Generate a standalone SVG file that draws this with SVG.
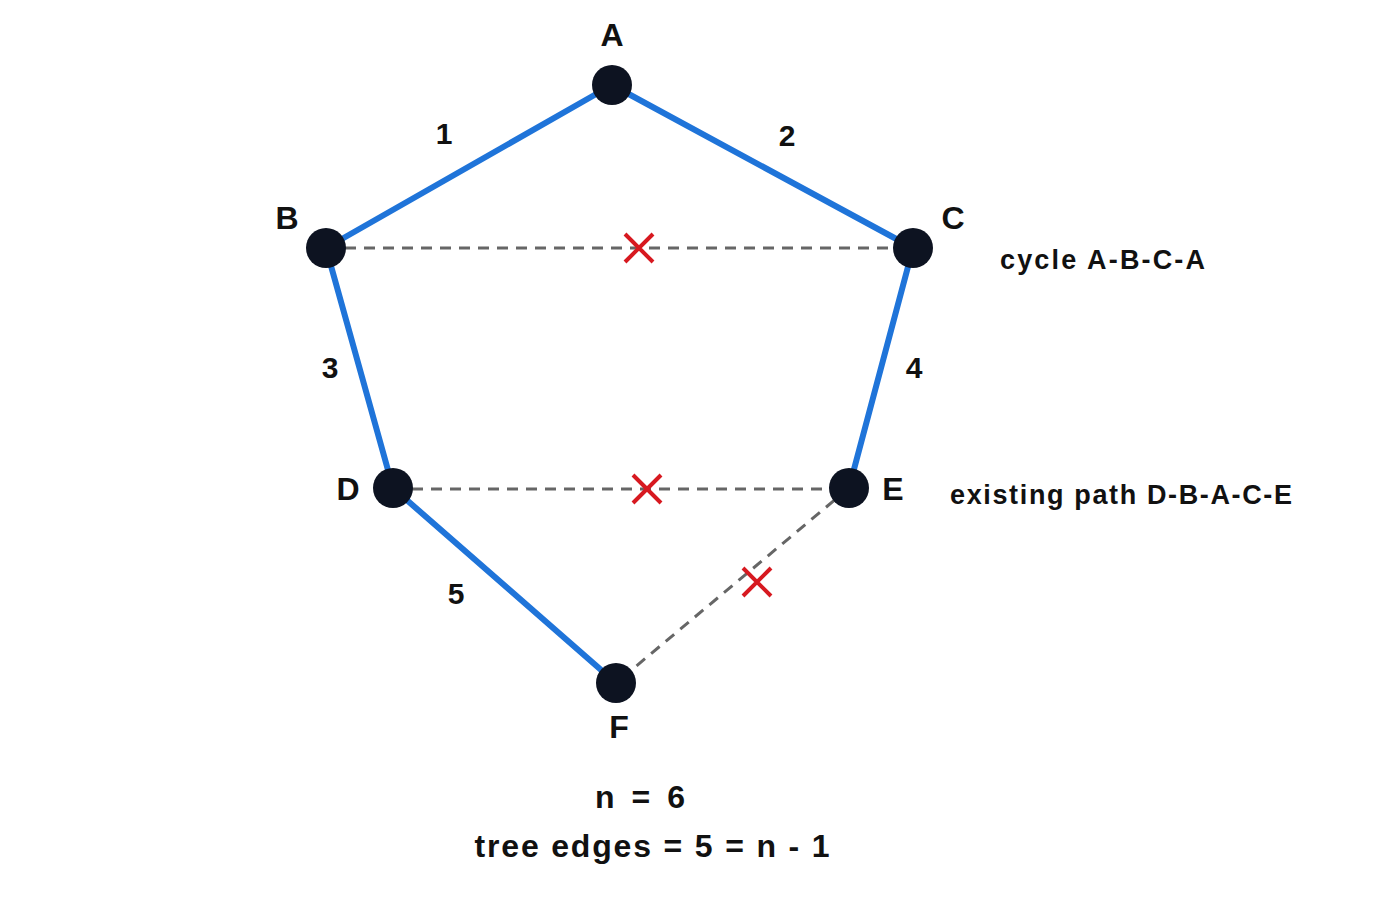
<svg xmlns="http://www.w3.org/2000/svg" width="1400" height="900" viewBox="0 0 1400 900">
<style>
.t{stroke:#1f74d9;stroke-width:6;stroke-linecap:round}
.d{stroke:#666;stroke-width:3;stroke-dasharray:11 8}
.x{stroke:#d71920;stroke-width:4}
.n{fill:#0d1321}
text{font-family:"Liberation Sans",Arial,sans-serif;font-weight:bold;fill:#111;text-anchor:middle;dominant-baseline:central}
.lbl{font-size:32px}
.num{font-size:30px}
.ann{font-size:27px;font-weight:600;text-anchor:start}
.bot{font-size:32px;font-weight:600}
</style>
<rect width="1400" height="900" fill="#fff"/>
<g id="connectors">
<line class="t" x1="612" y1="85" x2="326" y2="248"/>
<line class="t" x1="612" y1="85" x2="913" y2="248"/>
<line class="t" x1="326" y1="248" x2="393" y2="488"/>
<line class="t" x1="913" y1="248" x2="849" y2="488"/>
<line class="t" x1="393" y1="488" x2="616" y2="683"/>
<line class="d" x1="326" y1="248" x2="913" y2="248"/>
<line class="d" x1="393" y1="489" x2="849" y2="489"/>
<line class="d" x1="849" y1="488" x2="616" y2="683"/>
<path class="x" d="M625 234l28 28M653 234l-28 28"/>
<path class="x" d="M633 475l28 28M661 475l-28 28"/>
<path class="x" d="M743 568l28 28M771 568l-28 28"/>
<text class="num" x="444" y="133">1</text>
<text class="num" x="787" y="135">2</text>
<text class="num" x="330" y="367">3</text>
<text class="num" x="914" y="367">4</text>
<text class="num" x="456" y="593">5</text>
</g>
<g id="A"><circle class="n" cx="612" cy="85" r="20"/><text class="lbl" x="612" y="35">A</text></g>
<g id="B"><circle class="n" cx="326" cy="248" r="20"/><text class="lbl" x="287" y="218">B</text></g>
<g id="C"><circle class="n" cx="913" cy="248" r="20"/><text class="lbl" x="953" y="218">C</text></g>
<g id="D"><circle class="n" cx="393" cy="488" r="20"/><text class="lbl" x="348" y="489">D</text></g>
<g id="E"><circle class="n" cx="849" cy="488" r="20"/><text class="lbl" x="893" y="489">E</text></g>
<g id="F"><circle class="n" cx="616" cy="683" r="20"/><text class="lbl" x="619" y="727">F</text></g>
<text class="ann" x="1000" y="260" textLength="205" lengthAdjust="spacing">cycle A-B-C-A</text>
<text class="ann" x="950" y="495" textLength="342" lengthAdjust="spacing">existing path D-B-A-C-E</text>
<text class="bot" x="640" y="797" textLength="90" lengthAdjust="spacing">n = 6</text>
<text class="bot" x="652" y="846" textLength="355" lengthAdjust="spacing">tree edges = 5 = n - 1</text>
</svg>
